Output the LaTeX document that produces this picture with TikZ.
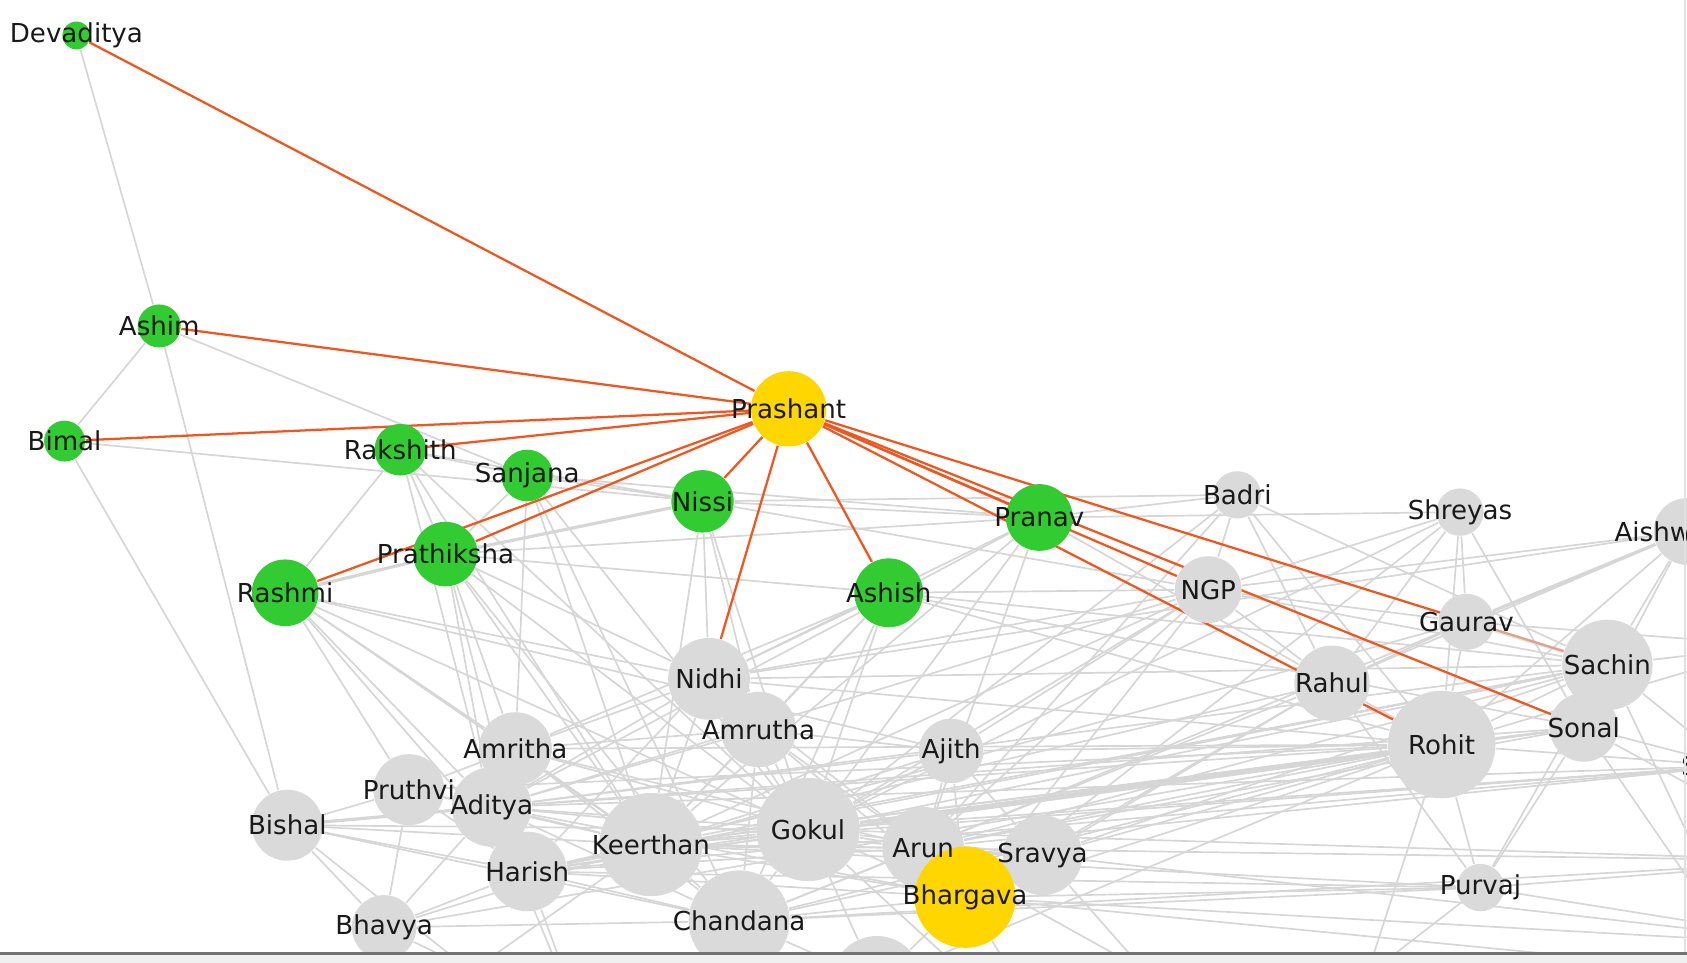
\documentclass[tikz,border=0pt]{standalone}
\usepackage{fontspec}
\setmainfont{DejaVu Sans}
\definecolor{ngrey}{RGB}{218,218,218}
\definecolor{egrey}{RGB}{214,214,214}
\definecolor{ngreen}{RGB}{50,204,50}
\definecolor{nyellow}{RGB}{255,214,0}
\definecolor{orng}{RGB}{240,86,30}
\pgfdeclarelayer{bg}
\pgfdeclarelayer{mid}
\pgfdeclarelayer{fg}
\pgfsetlayers{bg,mid,main,fg}
\tikzset{
  nd/.style={circle,inner sep=0pt,draw=none,minimum size={2*#1*0.1mm}},
  gnode/.style={nd=#1,fill=ngrey},
  grnode/.style={nd=#1,fill=ngreen},
  ynode/.style={nd=#1,fill=nyellow},
  lbl/.style={font=\fontsize{6.9}{8}\selectfont,text=black!90,inner sep=0pt},
  ge/.style={draw=egrey,line width=0.45pt},
  gthick/.style={draw=egrey,line width=0.85pt},
  oe/.style={draw=orng,line width=0.6pt}
}
\begin{document}
\begin{tikzpicture}[x=0.1mm,y=-0.1mm]
\useasboundingbox (0,0) rectangle (1568,895);
% ---------------- nodes ----------------
\node[gnode=42] (bot) at (815,912) {};
\node[gnode=30] (bhavya) at (357,862) {};
\node[gnode=33] (bishal) at (267,767) {};
\node[gnode=34] (amritha) at (479,696) {};
\node[gnode=33] (pruthvi) at (380,734) {};
\node[gnode=37] (aditya) at (457,750) {};
\node[gnode=37] (harish) at (490,810) {};
\node[gnode=48] (keerthan) at (605,785) {};
\node[gnode=47] (chand) at (687,856) {};
\node[gnode=38] (nidhi) at (659,631) {};
\node[gnode=35] (amrutha) at (705,678) {};
\node[gnode=48] (gokul) at (751,771) {};
\node[gnode=30] (ajith) at (884,698) {};
\node[gnode=38] (arun) at (858,788) {};
\node[gnode=37] (sravya) at (969,795) {};
\node[ynode=47] (bharg) at (897,834) {};
\node[gnode=22] (badri) at (1150,460) {};
\node[gnode=22] (shreyas) at (1357,476) {};
\node[gnode=31] (aish) at (1568,494) {};
\node[gnode=31] (ngp) at (1123,548) {};
\node[gnode=26] (gaurav) at (1363,578) {};
\node[gnode=35] (rahul) at (1238,635) {};
\node[gnode=32] (sonal) at (1472,676) {};
\node[gnode=42] (sachin) at (1494,618) {};
\node[gnode=50] (rohit) at (1340,692) {};
\node[gnode=22] (purvaj) at (1376,825) {};
\node[grnode=13] (dev) at (71,33) {};
\node[grnode=20] (ashim) at (148,303) {};
\node[grnode=19] (bimal) at (60,410) {};
\node[grnode=24] (raks) at (372,418) {};
\node[grnode=24] (sanj) at (490,442) {};
\node[grnode=29] (nissi) at (653,466) {};
\node[grnode=30] (prat) at (414,515) {};
\node[grnode=31] (rashmi) at (265,551) {};
\node[grnode=32] (ashish) at (826,551) {};
\node[grnode=31] (pranav) at (966,481) {};
\node[ynode=35] (prash) at (733,380) {};
% off-canvas end points
\coordinate (offS) at (1610,712);
\coordinate (offR2) at (1650,600);
\coordinate (offR3) at (1700,800);
\coordinate (offR4) at (1630,905);
\coordinate (offR5) at (1720,880);
\coordinate (offB1) at (300,1000);
\coordinate (offB2) at (560,1000);
\coordinate (offB3) at (640,1000);
\coordinate (offB4) at (1000,1000);
\coordinate (offB5) at (1150,1000);
\coordinate (offB6) at (1240,1000);
% ---------------- grey edges ----------------
\begin{pgfonlayer}{bg}
\foreach \a/\b in {dev/ashim,ashim/bimal,ashim/bishal,ashim/sanj,bimal/bishal,bimal/nissi,
 raks/rashmi,raks/prat,raks/sanj,raks/keerthan,raks/aditya,raks/nissi,raks/gokul,
 sanj/amritha,sanj/prat,sanj/keerthan,sanj/gokul,sanj/nissi,sanj/pranav,sanj/chand,
 prat/aditya,prat/amritha,prat/harish,prat/keerthan,prat/gokul,prat/pranav,prat/ashish,prat/nidhi,prat/chand,
 rashmi/pruthvi,rashmi/aditya,rashmi/harish,rashmi/keerthan,rashmi/nidhi,rashmi/amritha,rashmi/gokul,rashmi/ajith,
 nissi/nidhi,nissi/amrutha,nissi/pranav,nissi/badri,nissi/gokul,nissi/ngp,nissi/keerthan,
 ashish/gokul,ashish/amrutha,ashish/ngp,ashish/rohit,ashish/sachin,ashish/keerthan,ashish/amritha,ashish/nidhi,ashish/chand,ashish/sonal,
 pranav/badri,pranav/nidhi,pranav/keerthan,pranav/rahul,pranav/aditya,pranav/arun,pranav/gokul,pranav/shreyas,
 badri/ngp,badri/rahul,badri/rohit,badri/sachin,badri/gokul,badri/arun,
 shreyas/gaurav,shreyas/rohit,shreyas/sonal,shreyas/ngp,shreyas/rahul,shreyas/gokul,shreyas/bharg,
 aish/sachin,aish/ngp,aish/rohit,aish/rahul,aish/sonal,aish/nidhi,
 ngp/rahul,ngp/gokul,ngp/keerthan,ngp/arun,ngp/sachin,ngp/gaurav,ngp/bharg,ngp/aditya,
 gaurav/rohit,gaurav/rahul,gaurav/arun,gaurav/keerthan,
 sachin/rohit,sachin/sonal,sachin/gokul,sachin/arun,sachin/purvaj,sachin/sravya,sachin/aditya,sachin/keerthan,sachin/harish,
 rahul/rohit,rahul/sravya,rahul/bharg,rahul/purvaj,rahul/harish,rahul/chand,
 rohit/purvaj,rohit/arun,rohit/keerthan,rohit/bharg,rohit/sravya,rohit/aditya,rohit/sonal,rohit/harish,rohit/chand,rohit/bot,
 rohit/pruthvi,rohit/amritha,rohit/bhavya,rohit/ajith,
 sonal/purvaj,sonal/gokul,sonal/keerthan,sonal/arun,sonal/aditya,sonal/harish,
 purvaj/bharg,purvaj/chand,purvaj/keerthan,purvaj/harish,
 nidhi/amrutha,nidhi/keerthan,nidhi/gokul,nidhi/amritha,nidhi/aditya,nidhi/harish,nidhi/arun,nidhi/sachin,nidhi/rohit,nidhi/ngp,
 amrutha/gokul,amrutha/keerthan,amrutha/chand,amrutha/arun,amrutha/ajith,amrutha/aditya,amrutha/bharg,amrutha/amritha,
 ajith/arun,ajith/gokul,ajith/sravya,ajith/keerthan,ajith/aditya,ajith/ngp,ajith/bharg,
 amritha/pruthvi,amritha/aditya,amritha/keerthan,amritha/gokul,amritha/harish,amritha/chand,amritha/arun,
 pruthvi/aditya,pruthvi/bhavya,pruthvi/keerthan,pruthvi/harish,pruthvi/bishal,
 aditya/keerthan,aditya/gokul,aditya/harish,aditya/chand,aditya/arun,aditya/bharg,aditya/bhavya,
 bishal/keerthan,bishal/harish,bishal/bhavya,bishal/chand,bishal/gokul,
 keerthan/gokul,keerthan/harish,keerthan/chand,keerthan/arun,keerthan/bharg,keerthan/bhavya,keerthan/sravya,
 gokul/arun,gokul/chand,gokul/harish,gokul/bharg,gokul/sravya,gokul/bot,
 arun/bharg,arun/sravya,arun/chand,arun/harish,sravya/bharg,sravya/chand,
 harish/chand,harish/bhavya,harish/bharg,chand/bharg,chand/bhavya,chand/bot,bot/bharg,
 bhavya/offB1,harish/offB2,chand/offB3,bharg/offB4,sravya/offB5,rohit/offB6,purvaj/offB5,
 sachin/offR4,sonal/offR4,rohit/offS,sonal/offS,sachin/offS,sachin/offR2,aish/offR2,
 sonal/offR3,rohit/offR2,aish/offR3,gaurav/offR2,bishal/offB2,keerthan/offB1,gokul/offB4,
 arun/offB6,bhavya/offB3,aditya/offB2,offS/arun,offS/gokul,offS/keerthan,offS/aditya,offS/harish,
 purvaj/offR3,bharg/offR4,offR3/keerthan,offR3/gokul,offR3/chand,offR5/bharg,offR5/purvaj,offR5/sravya}
 {\draw[ge] (\a) -- (\b);}
\foreach \a/\b in {prat/rashmi,prat/nissi,bishal/aditya,aish/gaurav,gokul/rohit}
 {\draw[gthick] (\a) -- (\b);}
\end{pgfonlayer}
% ---------------- highlighted edges ----------------
\begin{pgfonlayer}{mid}
\foreach \b in {dev,ashim,bimal,raks,rashmi,prat,nissi,nidhi,ashish,pranav,sachin,sonal,ngp,rohit}
 {\draw[oe] (prash) -- (\b);}
% pale overlap where the grey Gaurav--Sachin edge lies over the orange one
\draw[gthick,draw opacity=0.6,line width=1pt] (gaurav) -- (sachin);
\end{pgfonlayer}
% ---------------- labels ----------------
\begin{pgfonlayer}{fg}
\foreach \n/\t in {dev/Devaditya,ashim/Ashim,bimal/Bimal,raks/Rakshith,sanj/Sanjana,nissi/Nissi,
 prat/Prathiksha,rashmi/Rashmi,prash/Prashant,ashish/Ashish,pranav/Pranav,badri/Badri,
 shreyas/Shreyas,ngp/NGP,gaurav/Gaurav,sachin/Sachin,rahul/Rahul,rohit/Rohit,sonal/Sonal,
 purvaj/Purvaj,nidhi/Nidhi,amrutha/Amrutha,ajith/Ajith,amritha/Amritha,pruthvi/Pruthvi,
 aditya/Aditya,bishal/Bishal,keerthan/Keerthan,gokul/Gokul,arun/Arun,sravya/Sravya,
 bharg/Bhargava,harish/Harish,chand/Chandana,bhavya/Bhavya}
 {\node[lbl] (\n-l) at (\n) {\t};}
\node[lbl,anchor=west] (aish-l) at (1500,494) {Aishw};
\node[lbl,anchor=west] (offS-l) at (1562,712) {S};
% window frame
\draw[black!12,line width=0.4pt] (1566,0) -- (1566,886);
\fill[black!6] (0,886) rectangle (1568,895);
\draw[black!55,line width=0.9pt] (0,886.5) -- (1568,886.5);
\end{pgfonlayer}
\end{tikzpicture}
\end{document}
